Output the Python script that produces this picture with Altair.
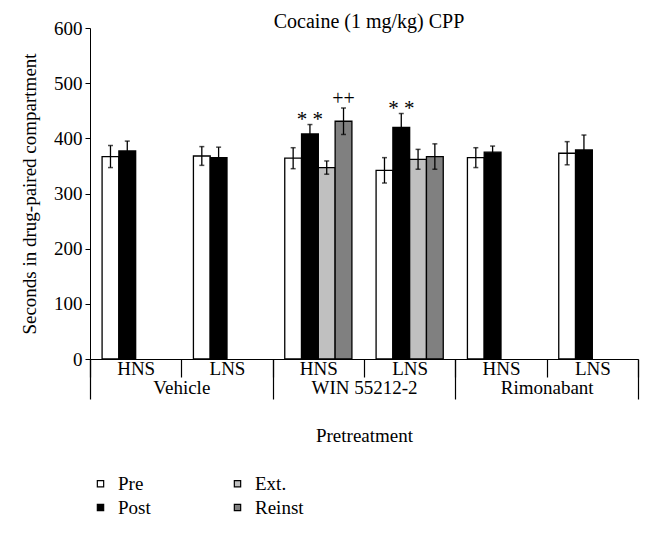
import altair as alt
import pandas as pd

# ---- data ----
groups = ["Vehicle", "Vehicle", "WIN 55212-2", "WIN 55212-2", "Rimonabant", "Rimonabant"]
strains = ["HNS", "LNS", "HNS", "LNS", "HNS", "LNS"]
phases = ["Pre", "Post", "Ext.", "Reinst"]

pre_mean = [367, 368, 364, 342, 365, 373]
pre_sem = [20, 17, 19, 23, 18, 21]
post_mean = [377, 365, 408, 420, 375, 379]
post_sem = [18, 19, 17, 25, 11, 27]
ext_mean = [None, None, 347, 362, None, None]
ext_sem = [None, None, 12, 18, None, None]
reinst_mean = [None, None, 431, 367, None, None]
reinst_sem = [None, None, 24, 23, None, None]

# significance marks: (cell index, phase, label)
marks_cell = [2, 2, 3]
marks_phase = ["Post", "Reinst", "Post"]
marks_label = ["* *", "++", "* *"]

group_order = ["Vehicle", "WIN 55212-2", "Rimonabant"]
fill_colors = ["#ffffff", "#000000", "#c0c0c0", "#808080"]

FONT = "Liberation Serif"

rows = []
for i in range(6):
    cell = groups[i] + "|" + strains[i]
    for ph, m, s in zip(phases,
                        [pre_mean[i], post_mean[i], ext_mean[i], reinst_mean[i]],
                        [pre_sem[i], post_sem[i], ext_sem[i], reinst_sem[i]]):
        if m is not None:
            rows.append({"cell": cell, "phase": ph, "mean": m,
                         "lo": m - s, "hi": m + s})
df = pd.DataFrame(rows)
cells = [g + "|" + s for g, s in zip(groups, strains)]

ann_rows = []
for ci, ph, lab in zip(marks_cell, marks_phase, marks_label):
    r = df[(df.cell == cells[ci]) & (df.phase == ph)].iloc[0]
    ann_rows.append({"cell": cells[ci], "phase": ph, "hi": r["hi"], "label": lab})
ann = pd.DataFrame(ann_rows)
ann_star = ann[ann.label == "* *"]
ann_plus = ann[ann.label == "++"]

grp_df = pd.DataFrame({"group": group_order})

x_scale = alt.Scale(domain=cells, paddingInner=0, paddingOuter=0)
xoff_scale = alt.Scale(domain=phases, paddingInner=0, paddingOuter=0.72)
y_scale = alt.Scale(domain=[0, 600])

x_enc = alt.X("cell:N", scale=x_scale, sort=cells,
              axis=alt.Axis(title=None, labelExpr="split(datum.label, '|')[1]",
                            labelAngle=0, labelFont=FONT, labelFontSize=19,
                            labelColor="black", labelPadding=-18,
                            tickBand="extent", tickSize=18, tickColor="black",
                            domainColor="black", tickWidth=1.2, domainWidth=1.2,
                            orient="bottom"))
x_plain = alt.X("cell:N", scale=x_scale, sort=cells, axis=None)
xo_enc = alt.XOffset("phase:N", scale=xoff_scale, sort=phases)

bars = alt.Chart(df).mark_bar(stroke="black", strokeWidth=1.3).encode(
    x=x_enc,
    xOffset=xo_enc,
    y=alt.Y("mean:Q", scale=y_scale,
            axis=alt.Axis(title="Seconds in drug-paired compartment",
                          values=[0, 100, 200, 300, 400, 500, 600],
                          grid=False, tickSize=5, tickColor="black",
                          domainColor="black", labelColor="black",
                          labelFont=FONT, labelFontSize=19, labelPadding=3,
                          titleFont=FONT, titleFontSize=19, titleFontWeight="normal",
                          titleColor="black", titlePadding=14)),
    color=alt.Color("phase:N",
                    scale=alt.Scale(domain=phases, range=fill_colors),
                    legend=alt.Legend(title=None, orient="none", legendX=1, legendY=446,
                                      columns=2, symbolType="square", symbolSize=40,
                                      symbolStrokeColor="black", symbolStrokeWidth=1.2,
                                      labelFont=FONT, labelFontSize=19,
                                      labelColor="black", labelOffset=8,
                                      columnPadding=77, rowPadding=4)),
)

err = alt.Chart(df).mark_rule(color="black", strokeWidth=1.3).encode(
    x=x_plain,
    xOffset=xo_enc,
    y=alt.Y("lo:Q", scale=y_scale),
    y2="hi:Q",
)
cap_hi = alt.Chart(df).mark_tick(color="black", thickness=1.5, size=5).encode(
    x=x_plain,
    xOffset=xo_enc,
    y=alt.Y("hi:Q", scale=y_scale),
)
cap_lo = alt.Chart(df).mark_tick(color="black", thickness=1.5, size=5).encode(
    x=x_plain,
    xOffset=xo_enc,
    y=alt.Y("lo:Q", scale=y_scale),
)
txt_star = alt.Chart(ann_star).mark_text(font=FONT, fontSize=21, baseline="bottom",
                                         dy=5, color="black").encode(
    x=x_plain,
    xOffset=xo_enc,
    y=alt.Y("hi:Q", scale=y_scale),
    text="label:N",
)
txt_plus = alt.Chart(ann_plus).mark_text(font=FONT, fontSize=20, baseline="bottom",
                                         dy=1, color="black").encode(
    x=x_plain,
    xOffset=xo_enc,
    y=alt.Y("hi:Q", scale=y_scale),
    text="label:N",
)

grp_axis = alt.Chart(grp_df).mark_point(opacity=0).encode(
    x=alt.X("group:N", sort=group_order,
            scale=alt.Scale(domain=group_order, paddingInner=0, paddingOuter=0),
            axis=alt.Axis(title="Pretreatment", orient="bottom", domain=False,
                          labelAngle=0, labelFont=FONT, labelFontSize=19,
                          labelColor="black", labelPadding=-21,
                          tickBand="extent", tickSize=40, tickColor="black",
                          tickWidth=1.2,
                          titleFont=FONT, titleFontSize=19, titleFontWeight="normal",
                          titleColor="black", titlePadding=27)),
    y=alt.value(0),
)

chart = alt.layer(bars, err, cap_hi, cap_lo, txt_star, txt_plus, grp_axis).resolve_scale(
    x="independent"
).properties(
    width=548, height=331,
    title=alt.TitleParams("Cocaine (1 mg/kg) CPP", font=FONT, fontSize=20,
                          fontWeight="normal", color="black", offset=-13, dx=5),
    padding={"left": 12, "top": 4, "right": 5, "bottom": 5},
).configure(background="white", view=alt.ViewConfig(stroke=None))

chart.save("out.html", embed_options={"renderer": "svg", "actions": False})
